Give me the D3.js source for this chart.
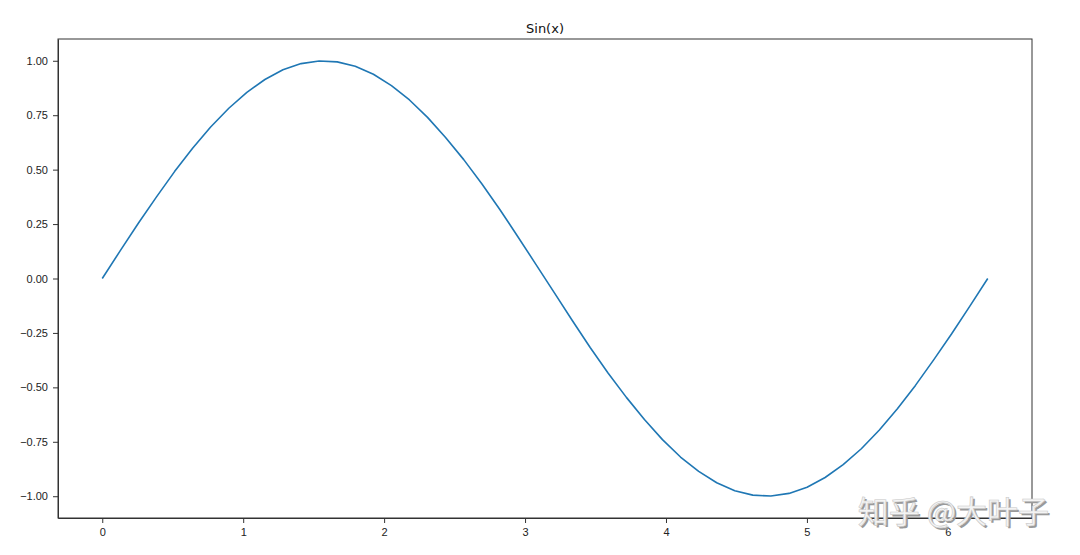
<!DOCTYPE html>
<html>
<head>
<meta charset="utf-8">
<script src="https://cdn.jsdelivr.net/npm/d3@7"></script>
<style>
  body { margin: 0; background: #fff; }
  svg { display: block; font-family: "DejaVu Sans", sans-serif; }
  .axis text { font-size: 11px; fill: #222; }
  .axis path, .axis line { stroke: #333; }
</style>
</head>
<body>
<svg width="1080" height="555"></svg>
<script>
// sample positions along x (0 to about 6.28)
const xValues = [0, 0.128, 0.256, 0.385, 0.513, 0.641, 0.769, 0.898, 1.026, 1.154,
  1.282, 1.411, 1.539, 1.667, 1.795, 1.924, 2.052, 2.180, 2.308, 2.436,
  2.565, 2.693, 2.821, 2.949, 3.078, 3.206, 3.334, 3.462, 3.590, 3.719,
  3.847, 3.975, 4.103, 4.232, 4.360, 4.488, 4.616, 4.744, 4.873, 5.001,
  5.129, 5.257, 5.386, 5.514, 5.642, 5.770, 5.898, 6.027, 6.155, 6.283]

// curve heights at those positions
const yValues = [0, 0.128, 0.254, 0.375, 0.491, 0.598, 0.696, 0.782, 0.855, 0.914,
  0.959, 0.987, 0.999, 0.995, 0.975, 0.938, 0.886, 0.820, 0.740, 0.648,
  0.546, 0.435, 0.317, 0.192, 0.064, -0.064, -0.192, -0.317, -0.435, -0.546,
  -0.648, -0.740, -0.820, -0.886, -0.938, -0.975, -0.995, -0.999, -0.987, -0.959,
  -0.914, -0.855, -0.782, -0.696, -0.598, -0.491, -0.375, -0.254, -0.128, 0]

const xTicks = [0, 1, 2, 3, 4, 5, 6]
const yTicks = [-1, -0.75, -0.5, -0.25, 0, 0.25, 0.5, 0.75, 1]

const chartTitle = "Sin(x)"
const watermark = "知乎 @大叶子"

const svg = d3.select("svg")

// plot box
const plotLeft = 58, plotRight = 1032, plotTop = 39, plotBottom = 518

const scaleX = d3.scaleLinear()
  .domain([-0.314, 6.597])
  .range([plotLeft, plotRight])

const scaleY = d3.scaleLinear()
  .domain([-1.1, 1.1])
  .range([plotBottom, plotTop])

const axisX = d3.axisBottom(scaleX)
  .tickValues(xTicks)
  .tickFormat(d3.format("d"))
  .tickSizeInner(5)
  .tickSizeOuter(0)
  .tickPadding(5)

const axisY = d3.axisLeft(scaleY)
  .tickValues(yTicks)
  .tickFormat(d3.format(".2f"))
  .tickSizeInner(5)
  .tickSizeOuter(0)
  .tickPadding(5)

svg.append("g")
  .attr("class", "axis x-axis")
  .attr("transform", `translate(0,${plotBottom})`)
  .call(axisX)

svg.append("g")
  .attr("class", "axis y-axis")
  .attr("transform", `translate(${plotLeft},0)`)
  .call(axisY)

// frame round the plot (matplotlib spines)
svg.append("rect")
  .attr("x", plotLeft)
  .attr("y", plotTop)
  .attr("width", plotRight - plotLeft)
  .attr("height", plotBottom - plotTop)
  .attr("fill", "none")
  .attr("stroke", "#333")
  .attr("stroke-width", 1)

const points = xValues.map((x, i) => [x, yValues[i]])

const line = d3.line()
  .x(d => scaleX(d[0]))
  .y(d => scaleY(d[1]))

svg.append("path")
  .datum(points)
  .attr("d", line)
  .attr("fill", "none")
  .attr("stroke", "#1f77b4")
  .attr("stroke-width", 1.6)
  .attr("stroke-linejoin", "round")

svg.append("text")
  .attr("x", (plotLeft + plotRight) / 2)
  .attr("y", 33)
  .attr("text-anchor", "middle")
  .attr("font-size", 13)
  .attr("fill", "#111")
  .text(chartTitle)

// watermark, grey with a soft shadow
svg.append("text")
  .attr("x", 1051)
  .attr("y", 525)
  .attr("text-anchor", "end")
  .attr("font-family", "'Noto Sans CJK SC', sans-serif")
  .attr("font-size", 31)
  .attr("fill", "#9a9a9a")
  .text(watermark)

svg.append("text")
  .attr("x", 1049)
  .attr("y", 523)
  .attr("text-anchor", "end")
  .attr("font-family", "'Noto Sans CJK SC', sans-serif")
  .attr("font-size", 31)
  .attr("fill", "#f4f4f4")
  .attr("stroke", "#c8c8c8")
  .attr("stroke-width", 0.6)
  .text(watermark)
</script>
</body>
</html>
